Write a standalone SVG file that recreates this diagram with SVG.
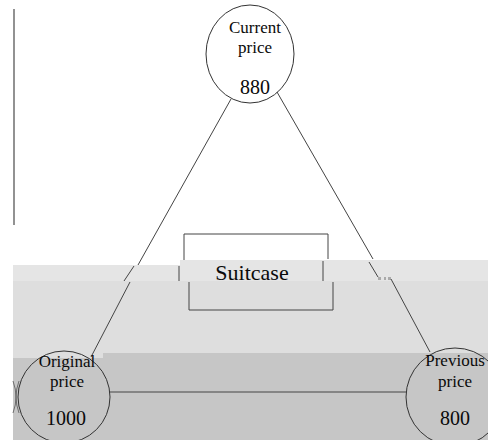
<svg xmlns="http://www.w3.org/2000/svg" width="488" height="440" viewBox="0 0 488 440">
<style>
.ln{stroke:#444;stroke-width:1;fill:none}
.nd{stroke:#333;stroke-width:1;fill:none}
.t{font-family:"Liberation Serif","Times New Roman",serif;fill:#0a0a0a;text-anchor:middle}
</style>
<rect width="488" height="440" fill="#fff"/>
<g id="background">
<rect x="13" y="265" width="167" height="17" fill="#e5e5e5"/>
<rect x="180" y="260" width="308" height="22" fill="#e5e5e5"/>
<rect x="13" y="281" width="475" height="77" fill="#dedede"/>
<rect x="103" y="353" width="385" height="5" fill="#c6c6c6"/>
<rect x="13" y="358" width="475" height="82" fill="#c6c6c6"/>
<line x1="14" y1="9" x2="14" y2="225" stroke="#777" stroke-width="1.6"/>
<path d="M13 381 Q19 397 13 413 M19 381 Q13 397 19 413" stroke="#555" stroke-width="0.8" fill="none"/>
<rect x="378" y="277" width="3" height="3" fill="#aaa"/>
<rect x="384" y="277" width="2" height="3" fill="#aaa"/>
<rect x="388" y="277" width="3" height="3" fill="#aaa"/>
</g>
<g id="connectors">
<line class="ln" x1="231" y1="99" x2="138" y2="265"/>
<line class="ln" x1="134" y1="266" x2="124" y2="281"/>
<line class="ln" x1="130" y1="282" x2="91" y2="357"/>
<line class="ln" x1="277" y1="92" x2="373" y2="259"/>
<line class="ln" x1="369" y1="262" x2="378" y2="277"/>
<line class="ln" x1="391" y1="279" x2="430" y2="352"/>
<line class="ln" x1="110" y1="392" x2="406" y2="392"/>
</g>
<g id="node-current">
<ellipse class="nd" cx="250" cy="54" rx="44" ry="49"/>
<text class="t" x="255" y="33" font-size="17">Current</text>
<text class="t" x="255" y="53" font-size="17">price</text>
<text class="t" x="255" y="94" font-size="20">880</text>
</g>
<g id="node-suitcase">
<path class="ln" d="M184 260 V234 H328 V259"/>
<line class="ln" x1="179" y1="266" x2="179" y2="281"/>
<line class="ln" x1="323" y1="261" x2="323" y2="281"/>
<path class="ln" d="M189 282 V310 H333 V282"/>
<text class="t" x="252" y="280" font-size="22">Suitcase</text>
</g>
<g id="node-original">
<circle class="nd" cx="64" cy="397" r="46"/>
<text class="t" x="67" y="367" font-size="17">Original</text>
<text class="t" x="67" y="387" font-size="17">price</text>
<text class="t" x="66" y="425" font-size="20">1000</text>
</g>
<g id="node-previous">
<circle class="nd" cx="455" cy="397" r="49"/>
<text class="t" x="455" y="366" font-size="17">Previous</text>
<text class="t" x="455" y="387" font-size="17">price</text>
<text class="t" x="455" y="425" font-size="20">800</text>
</g>
</svg>
